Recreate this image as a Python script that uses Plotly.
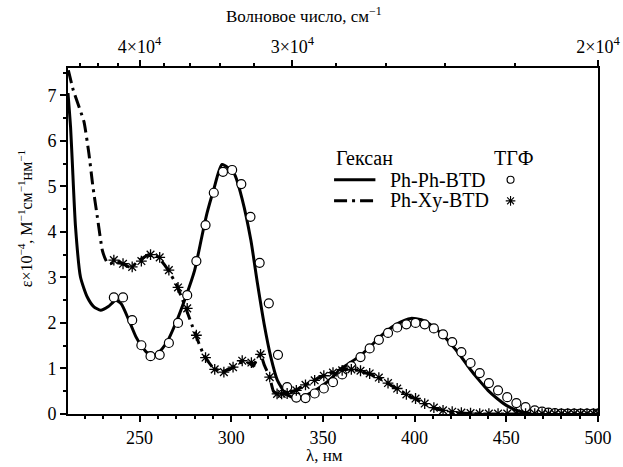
import plotly.graph_objects as go

# ---------------- data ----------------
# Ph-Ph-BTD in hexane (solid line)
pp_hex_x = [211, 212.4, 213.3, 215.1, 217.8, 221.5, 225, 228.8, 233, 237, 240, 244.2, 248, 251, 254,
            257, 260, 265, 270, 275, 280, 284, 286.8, 290.4, 295, 301.6, 306.1, 310.7, 314.3, 317.9,
            321.6, 325.2, 329.8, 335.3, 340, 345, 350, 355, 360, 365, 370, 375, 380, 385, 390, 398,
            405, 410, 415, 420, 425, 430, 435, 440, 445, 450, 455, 460, 465, 470, 480, 500]
pp_hex_y = [7.05, 6.3, 5.57, 4.11, 3.01, 2.57, 2.36, 2.28, 2.36, 2.50, 2.42, 2.06, 1.7, 1.5, 1.35,
            1.29, 1.33, 1.58, 2.02, 2.55, 3.15, 3.9, 4.41, 4.92, 5.48, 5.28, 4.70, 3.82, 2.87, 1.99,
            1.25, 0.74, 0.45, 0.34, 0.40, 0.50, 0.63, 0.80, 1.0, 1.13, 1.27, 1.45, 1.65, 1.83, 1.97, 2.10,
            2.05, 1.92, 1.75, 1.53, 1.28, 1.0, 0.75, 0.52, 0.34, 0.19, 0.09, 0.03, 0.01, 0.0, 0.0, 0.0]

# Ph-Xy-BTD in hexane (dash-dot line)
px_hex_x = [211.2, 213.9, 219.7, 222.4, 224.6, 227, 229.7, 232, 234, 237, 241, 245, 250, 255, 260,
            265, 270, 275, 280, 285, 290, 295, 300, 305, 310, 312, 314, 316, 318, 321, 323, 325, 330,
            335, 340, 345, 350, 355, 360, 365, 370, 375, 380, 385, 390, 395, 400, 405, 410, 415, 420,
            430, 440, 500]
px_hex_y = [7.55, 7.11, 6.42, 5.72, 4.99, 4.33, 3.6, 3.35, 3.3, 3.36, 3.3, 3.22, 3.38, 3.5, 3.45,
            3.2, 2.85, 2.35, 1.8, 1.3, 1.02, 0.93, 1.0, 1.13, 1.12, 1.05, 1.2, 1.31, 1.08, 0.8, 0.5, 0.45, 0.45,
            0.52, 0.63, 0.74, 0.84, 0.92, 0.97, 0.99, 0.95, 0.88, 0.8, 0.68, 0.56, 0.44, 0.34, 0.23, 0.14, 0.08, 0.04,
            0.01, 0.0, 0.0]

# Ph-Ph-BTD in THF (open circles)
pp_thf_x = [236, 241, 246, 251, 256, 261, 266, 271, 276, 281, 286, 290.5, 295.5, 300.5, 305.5, 310.5,
            315.5, 320.5, 325.5, 330.5, 335.5, 340.5, 345.5, 350.5, 355.5, 360.5, 365.5, 370.5, 375.5,
            380.5, 385.5, 390.5, 395.5, 400.5, 405.5, 410.5, 415.5, 420.5, 425.5, 430.5, 435.5, 440.5,
            445.5, 450.5, 455.5, 460.5, 465.5, 469.5, 473, 476.5, 480, 483.5, 487, 490.5, 494, 497.5, 500]
pp_thf_y = [2.56, 2.56, 2.06, 1.51, 1.27, 1.30, 1.56, 2.0, 2.61, 3.36, 4.15, 4.86, 5.32, 5.36, 5.05, 4.33,
            3.32, 2.43, 1.30, 0.59, 0.36, 0.35, 0.45, 0.56, 0.70, 0.87, 1.05, 1.25, 1.44,
            1.63, 1.78, 1.90, 1.97, 2.0, 1.97, 1.88, 1.75, 1.58, 1.36, 1.12, 0.90, 0.68,
            0.52, 0.37, 0.24, 0.15, 0.08, 0.05, 0.03, 0.02, 0.01, 0.01, 0.01, 0.01, 0.01, 0.01, 0.01]

# Ph-Xy-BTD in THF (asterisks)
px_thf_x = [236, 241, 246, 251, 256, 261, 266, 271, 276, 281, 286, 291, 296, 301, 306, 311, 316, 321,
            325, 327.5, 330.5, 335.5, 340.5, 345.5, 350.5, 355.5, 360.5, 365.5, 370.5, 375.5, 380.5,
            385.5, 390.5, 395.5, 400.5, 405.5, 410.5, 415.5, 420.5, 425.5, 430.5, 435.5, 440.5, 445.5,
            450.5, 455.5, 460.5, 465.5, 469.5, 473, 476.5, 480, 483.5, 487, 490.5, 494, 497.5, 500]
px_thf_y = [3.38, 3.30, 3.23, 3.36, 3.50, 3.44, 3.16, 2.78, 2.32, 1.73, 1.24, 0.98, 0.92, 1.03, 1.17, 1.13,
            1.31, 0.81, 0.44, 0.44, 0.45, 0.52, 0.64, 0.74, 0.84, 0.91, 0.96, 0.98, 0.95, 0.89, 0.80,
            0.68, 0.56, 0.43, 0.34, 0.23, 0.14, 0.08, 0.05, 0.03, 0.02, 0.01, 0.01, 0.01,
            0.01, 0.01, 0.01, 0.01, 0.01, 0.01, 0.01, 0.01, 0.01, 0.01, 0.01, 0.01, 0.01, 0.01]

# axes
x_range = [211, 500]
y_range = [0, 7.6]
x_ticks = [250, 300, 350, 400, 450, 500]
x_minor = list(range(220, 500, 10))
y_ticks = [0, 1, 2, 3, 4, 5, 6, 7]
y_minor = [0.5, 1.5, 2.5, 3.5, 4.5, 5.5, 6.5, 7.5]
wn_major = [40000, 30000, 20000]
wn_major_text = ["4×10<sup>4</sup>", "3×10<sup>4</sup>", "2×10<sup>4</sup>"]
wn_minor = [46000, 44000, 42000, 38000, 36000, 34000, 32000, 28000, 26000, 24000, 22000]

# legend
legend_line_x = [0.502, 0.580]
legend_row_y = [0.677, 0.616]
legend_head_y = 0.740
legend_marker_x = 0.835
legend_names = ["Ph-Ph-BTD", "Ph-Xy-BTD"]

FONT = "Liberation Serif, Times New Roman, serif"
BLACK = "#000000"
DASHDOT = "13px,5px,3px,5px"

fig = go.Figure()

fig.add_trace(go.Scatter(x=pp_hex_x, y=pp_hex_y, mode="lines", line=dict(color=BLACK, width=3, shape="spline", smoothing=0.6),
                         showlegend=False, hoverinfo="skip"))
fig.add_trace(go.Scatter(x=px_hex_x, y=px_hex_y, mode="lines", line=dict(color=BLACK, width=3, dash=DASHDOT, shape="spline", smoothing=0.4),
                         showlegend=False, hoverinfo="skip"))
fig.add_trace(go.Scatter(x=pp_thf_x, y=pp_thf_y, mode="markers",
                         marker=dict(symbol="circle", size=9, color="white", line=dict(color=BLACK, width=1.2)),
                         showlegend=False, hoverinfo="skip"))
fig.add_trace(go.Scatter(x=px_thf_x, y=px_thf_y, mode="markers",
                         marker=dict(symbol="asterisk-open", size=9, color=BLACK, line=dict(color=BLACK, width=1.3)),
                         showlegend=False, hoverinfo="skip"))

# helper trace to make top axis render
wn_lambda_major = [1e7 / w for w in wn_major]
wn_lambda_minor = [1e7 / w for w in wn_minor]
fig.add_trace(go.Scatter(x=x_range, y=[0, 0], xaxis="x2", mode="lines", line=dict(width=0), opacity=0,
                         showlegend=False, hoverinfo="skip"))

# legend samples (on hidden unit axes)
fig.add_trace(go.Scatter(x=legend_line_x, y=[legend_row_y[0]] * 2, xaxis="x3", yaxis="y3", mode="lines",
                         line=dict(color=BLACK, width=3), showlegend=False, hoverinfo="skip"))
fig.add_trace(go.Scatter(x=legend_line_x, y=[legend_row_y[1]] * 2, xaxis="x3", yaxis="y3", mode="lines",
                         line=dict(color=BLACK, width=3, dash=DASHDOT), showlegend=False, hoverinfo="skip"))
fig.add_trace(go.Scatter(x=[legend_marker_x], y=[legend_row_y[0]], xaxis="x3", yaxis="y3", mode="markers",
                         marker=dict(symbol="circle", size=7, color="white", line=dict(color=BLACK, width=1.1)),
                         showlegend=False, hoverinfo="skip"))
fig.add_trace(go.Scatter(x=[legend_marker_x], y=[legend_row_y[1]], xaxis="x3", yaxis="y3", mode="markers",
                         marker=dict(symbol="asterisk-open", size=8, color=BLACK, line=dict(color=BLACK, width=1.1)),
                         showlegend=False, hoverinfo="skip"))

ann = []
ann.append(dict(x=0.502, y=legend_head_y, xref="paper", yref="paper", text="Гексан", showarrow=False,
                xanchor="left", yanchor="middle", font=dict(size=20, family=FONT, color=BLACK)))
ann.append(dict(x=0.842, y=legend_head_y, xref="paper", yref="paper", text="ТГФ", showarrow=False,
                xanchor="center", yanchor="middle", font=dict(size=20, family=FONT, color=BLACK)))
for name, yy in zip(legend_names, legend_row_y):
    ann.append(dict(x=0.604, y=yy, xref="paper", yref="paper", text=name, showarrow=False,
                    xanchor="left", yanchor="middle", font=dict(size=20, family=FONT, color=BLACK)))
ann.append(dict(x=0.4836, y=-0.120, xref="paper", yref="paper", text="λ, нм", showarrow=False,
                xanchor="center", yanchor="middle", font=dict(size=17, family=FONT, color=BLACK)))
ann.append(dict(x=0.445, y=1.154, xref="paper", yref="paper", text="Волновое число, см<sup>−1</sup>", showarrow=False,
                xanchor="center", yanchor="middle", font=dict(size=17, family=FONT, color=BLACK)))
ann.append(dict(x=-0.0815, y=0.565, xref="paper", yref="paper", text="ε×10<sup>−4</sup>, М<sup>−1</sup>см<sup>−1</sup>нм<sup>−1</sup>",
                showarrow=False, textangle=-90, xanchor="center", yanchor="middle",
                font=dict(size=16, family=FONT, color=BLACK)))

axis_common = dict(showgrid=False, zeroline=False, linecolor=BLACK, linewidth=2, ticks="outside", automargin=False,
                   tickcolor=BLACK, tickwidth=1.5, ticklen=6, tickfont=dict(size=18, family=FONT, color=BLACK))

fig.update_layout(
    width=623, height=467,
    margin=dict(l=68, r=25, t=68, b=53),
    paper_bgcolor="white", plot_bgcolor="white",
    font=dict(family=FONT, color=BLACK),
    xaxis=dict(range=x_range, tickmode="array", tickvals=x_ticks, mirror=True,
               minor=dict(tickmode="array", tickvals=x_minor, ticks="outside", ticklen=3, tickcolor=BLACK, tickwidth=1.5),
               **axis_common),
    yaxis=dict(range=y_range, tickmode="array", tickvals=y_ticks, mirror=True,
               minor=dict(tickmode="array", tickvals=y_minor, ticks="outside", ticklen=3, tickcolor=BLACK, tickwidth=1.5),
               **axis_common),
    xaxis2=dict(range=x_range, overlaying="x", side="top", anchor="y", tickmode="array",
                tickvals=wn_lambda_major, ticktext=wn_major_text,
                minor=dict(tickmode="array", tickvals=wn_lambda_minor, ticks="outside", ticklen=3, tickcolor=BLACK, tickwidth=1.5),
                **axis_common),
    xaxis3=dict(range=[0, 1], overlaying="x", visible=False, anchor="y3", automargin=False),
    yaxis3=dict(range=[0, 1], overlaying="y", visible=False, anchor="x3", automargin=False),
    annotations=ann,
)

fig.write_html("out.html")
